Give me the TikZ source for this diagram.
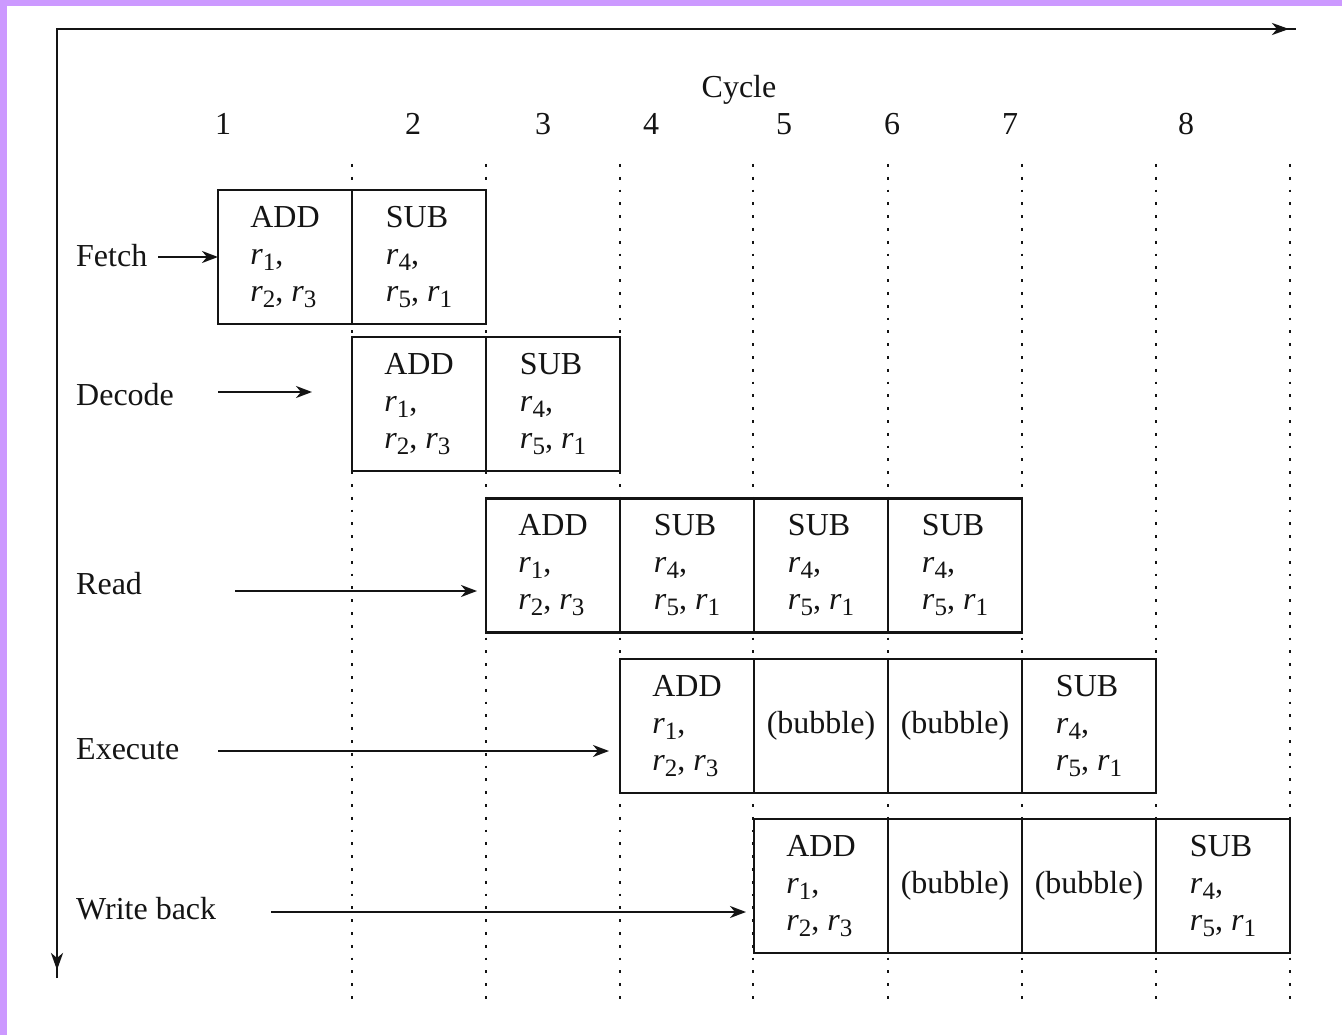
\documentclass[tikz,border=0pt]{standalone}
\usepackage{fontspec}
\setmainfont{Liberation Serif}
\usetikzlibrary{arrows.meta}
\definecolor{framepurple}{RGB}{204,153,255}
\definecolor{ink}{RGB}{20,20,20}
% register name with a lowered subscript, e.g. r_1
\newcommand\regr[1]{\textit{r}\raisebox{-6pt}{\fontsize{25}{25}\selectfont #1}}
\newcommand\mainsize{\fontsize{32}{37}\selectfont}
\begin{document}
\begin{tikzpicture}[x=1pt, y=-1pt,
  cell/.style={draw=ink, line width=2.4pt, fill=white, minimum width=134pt,
    minimum height=134pt, inner sep=0pt, outer sep=0pt, align=left,
    font=\mainsize, text=ink},
  lbl/.style={font=\mainsize, text=ink, inner sep=0pt},
  flow/.style={draw=ink, line width=2.2pt, -{Stealth[length=16pt, width=12pt, inset=5pt]}},
  axis/.style={draw=ink, line width=2.6pt},
  guide/.style={draw=ink, line width=2.8pt, dash pattern=on 2.8pt off 10pt}]

% frame and page
\useasboundingbox (0,0) rectangle (1342,1035);
\fill[framepurple] (0,0) rectangle (1342,1035);
\fill[white] (7,6) rectangle (1342,1035);

% axes
\coordinate (origin) at (57,29);
\coordinate (xend) at (1296,29);
\coordinate (yend) at (57,978);
\draw[axis] (yend) -- (origin) -- (xend);
\coordinate (xtip0) at (1265,29);
\coordinate (xtip1) at (1289,29);
\coordinate (ytip0) at (57,945);
\coordinate (ytip1) at (57,970);
\draw[axis, -{Stealth[length=17pt, width=12pt, inset=5pt]}] (xtip0) -- (xtip1);
\draw[axis, -{Stealth[length=17pt, width=12pt, inset=5pt]}] (ytip0) -- (ytip1);

% cycle numbering
\node[lbl, anchor=base] (cycle) at (739,98) {Cycle};
\foreach \n/\x in {1/223, 2/413, 3/543, 4/651, 5/784, 6/892, 7/1010, 8/1186}
  \node[lbl, anchor=base] (cyc\n) at (\x,135) {\n};

% cycle boundaries
\foreach \x in {352, 486, 620, 753, 888, 1022, 1156, 1290}
  \draw[guide] (\x,164) -- (\x,1000);

% Fetch stage
\node[cell] (f1) at (285,257) {ADD\\\regr{1},\\\regr{2}, \regr{3}};
\node[cell] (f2) at (419,257) {SUB\\\regr{4},\\\regr{5}, \regr{1}};

% Decode stage
\node[cell] (d1) at (419,404) {ADD\\\regr{1},\\\regr{2}, \regr{3}};
\node[cell] (d2) at (553,404) {SUB\\\regr{4},\\\regr{5}, \regr{1}};

% Read stage
\node[cell] (r1) at (553,565.5) {ADD\\\regr{1},\\\regr{2}, \regr{3}};
\node[cell] (r2) at (687,565.5) {SUB\\\regr{4},\\\regr{5}, \regr{1}};
\node[cell] (r3) at (821,565.5) {SUB\\\regr{4},\\\regr{5}, \regr{1}};
\node[cell] (r4) at (955,565.5) {SUB\\\regr{4},\\\regr{5}, \regr{1}};

% Execute stage
\node[cell] (e1) at (687,726) {ADD\\\regr{1},\\\regr{2}, \regr{3}};
\node[cell] (e2) at (821,726) {(bubble)};
\node[cell] (e3) at (955,726) {(bubble)};
\node[cell] (e4) at (1089,726) {SUB\\\regr{4},\\\regr{5}, \regr{1}};

% Write back stage
\node[cell] (w1) at (821,886) {ADD\\\regr{1},\\\regr{2}, \regr{3}};
\node[cell] (w2) at (955,886) {(bubble)};
\node[cell] (w3) at (1089,886) {(bubble)};
\node[cell] (w4) at (1223,886) {SUB\\\regr{4},\\\regr{5}, \regr{1}};

% stage labels
\node[lbl, anchor=base west] (lfetch) at (76,266) {Fetch};
\node[lbl, anchor=base west] (ldecode) at (76,405) {Decode};
\node[lbl, anchor=base west] (lread) at (76,594) {Read};
\node[lbl, anchor=base west] (lexec) at (76,759) {Execute};
\node[lbl, anchor=base west] (lwb) at (76,919) {Write back};

% stage arrows
\coordinate (fa) at (158,257);
\draw[flow] (fa) -- (f1.west);
\coordinate (da) at (218,392);
\coordinate (db) at (312,392);
\draw[flow] (da) -- (db);
\coordinate (ra) at (235,591);
\coordinate (rb) at (477,591);
\draw[flow] (ra) -- (rb);
\coordinate (ea) at (218,751);
\coordinate (eb) at (609,751);
\draw[flow] (ea) -- (eb);
\coordinate (wa) at (271,912);
\coordinate (wb) at (746,912);
\draw[flow] (wa) -- (wb);
\end{tikzpicture}
\end{document}
